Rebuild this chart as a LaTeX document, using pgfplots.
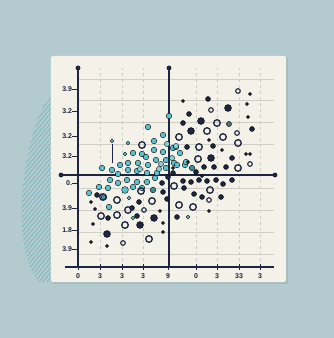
\documentclass[border=0pt]{standalone}
\usepackage{pgfplots}
\pgfplotsset{compat=1.18}
\usepackage{fontspec}
\setmainfont{Liberation Sans}
\usetikzlibrary{patterns.meta}
\definecolor{bg}{HTML}{B3CBCF}
\definecolor{panel}{HTML}{F3F1E8}
\definecolor{navy}{HTML}{1C2541}
\definecolor{cy}{HTML}{5CC2CF}
\definecolor{cylt}{HTML}{86D2DB}
\definecolor{tealdk}{HTML}{3E8F99}
\definecolor{grayteal}{HTML}{4E6E74}
\definecolor{gridc}{HTML}{CFCEC6}
\definecolor{hatch}{HTML}{6FB2BA}
\begin{document}
\begin{tikzpicture}
\begin{axis}[
  set layers=standard,
  scale only axis, width=196bp, height=199bp,
  xmin=78, xmax=274, ymin=71, ymax=270,
  clip=false,
  axis x line=bottom, axis y line=left,
  axis line style={draw=navy, line width=1.2bp, -},
  x axis line style={shorten <=-13bp},
  xtick={78,100,122,143,168,196,217,239,260},
  xticklabels={0,3,3,3,9,0,3,33,3},
  ytick={249,227,202,182,155,130,108,89},
  yticklabels={3.9,3.2,3.2,3.2,0.,3.9,1.8,3.9},
  minor ytick={259,238,216,194,150,128,106,84},
  xmajorgrids, yminorgrids,
  major x grid style={gridc, dashed, line width=0.5bp},
  minor y grid style={gridc, line width=0.5bp},
  minor tick length=0pt,
  tick align=center,
  major tick length=5bp,
  x tick style={navy, line width=1bp},
  y tick style={navy, line width=0.7bp, xshift=-3bp},
  /pgf/number format/assume math mode=true,
  ticklabel style={font=\bfseries\fontsize{7}{8}\selectfont, text=navy},
  xticklabel style={yshift=-0.5bp},
  yticklabel style={xshift=0bp},
]
\begin{pgfonlayer}{axis background}
\fill[bg] (axis cs:0,0) rectangle (axis cs:334,338);
\fill[pattern={Lines[angle=50,distance=3.2bp,line width=0.6bp]}, pattern color=hatch]
  (axis cs:52,243) .. controls (axis cs:38,230) and (axis cs:26,190) .. (axis cs:22,140)
  .. controls (axis cs:20,100) and (axis cs:26,70) .. (axis cs:40,56) -- (axis cs:52,56) -- cycle;
\fill[black, opacity=0.08] (axis cs:53,54) rectangle (axis cs:288,280);
\fill[panel, rounded corners=2bp] (axis cs:51,56) rectangle (axis cs:286,282);
\end{pgfonlayer}

% axis decorations
\addplot[navy, line width=1.2bp] coordinates {(169,71) (169,270)};
\addplot[navy, line width=1.2bp] coordinates {(61,163) (275,163)};
\addplot[navy, only marks, mark=*, mark size=2.2] coordinates {(78,270) (169,270) (61,163) (275,163)};
\addplot[navy, line width=1bp] coordinates {(112,194) (112,175)};

% cyan dots
\addplot[only marks, mark=*, mark size=2.8, mark options={fill=cy, draw=none}] coordinates {
(169,222) (148,211) (163,203) (154,197) (133,185) (142,184) (146,181) (154,188)
(163,186) (173,190) (180,185) (185,173) (128,175) (138,175) (148,173) (156,178)
(166,178) (174,175) (102,170) (112,168) (120,173) (118,164) (128,168) (137,167)
(147,165) (157,165) (166,170) (110,158) (118,155) (127,158) (137,156) (147,156)
(155,160) (99,151) (108,150) (133,151) (89,145) (109,131) (176,191) (186,176)
(177,173) (142,150)
};
\addplot[only marks, mark=*, mark size=2.6, mark options={fill=cylt, draw=none}] coordinates {
(167,194) (176,192) (161,174) (140,169) (159,169) (172,180)
};
\addplot[only marks, mark=*, mark size=3.4, mark options={fill=cy, draw=none}] coordinates {(125,148)};
\addplot[only marks, mark=*, mark size=1.9, mark options={fill=cy, draw=none}] coordinates {
(128,195) (112,197) (133,120) (188,121) (125,184) (129,140)
};
\addplot[only marks, mark=*, mark size=2.8, mark options={fill=tealdk, draw=none}] coordinates {(153,148) (104,141) (192,170)};
\addplot[only marks, mark=*, mark size=2.6, mark options={fill=grayteal, draw=none}] coordinates {(229,214)};

% dark dots medium
\addplot[only marks, mark=*, mark size=2.5, mark options={fill=navy, draw=none}] coordinates {
(208,239) (189,224) (252,209) (183,215) (187,191) (213,192) (232,180)
(204,171) (214,171) (226,171) (196,166) (162,155) (168,161) (183,157) (191,156)
(199,158) (207,157) (216,158) (223,154) (232,158) (173,165) (163,146) (167,139)
(184,150) (194,144) (202,141) (221,141) (139,136) (97,143) (132,130) (177,121)
(108,120) (137,122)
};
% dark dots small
\addplot[only marks, mark=*, mark size=1.7, mark options={fill=navy, draw=none}] coordinates {
(247,234) (250,244) (248,221) (209,198) (222,188) (246,184) (250,184) (173,170)
(188,176) (202,162) (91,136) (95,129) (160,127) (209,127) (93,114) (163,115)
(163,106) (91,96) (107,92) (183,237)
};
% dark dots large
\addplot[only marks, mark=*, mark size=3.5, mark options={fill=navy, draw=none}] coordinates {
(228,230) (201,217) (191,207) (211,180) (154,120) (140,113) (107,104)
};
% rings medium
\addplot[only marks, mark=o, mark size=3.3, mark options={draw=navy, line width=1.3bp}] coordinates {
(217,215) (207,207) (179,201) (223,201) (142,193) (199,191) (238,195) (198,179)
(238,170) (174,152) (210,148) (141,147) (103,141) (117,138) (152,137) (179,133)
(193,131) (128,128) (101,122) (117,123) (125,113) (149,99)
};
% rings small
\addplot[only marks, mark=o, mark size=2.3, mark options={draw=navy, line width=1.1bp}] coordinates {
(238,247) (211,228) (237,205) (250,174) (209,138) (144,128) (123,95)
};
\end{axis}
\end{tikzpicture}
\end{document}
